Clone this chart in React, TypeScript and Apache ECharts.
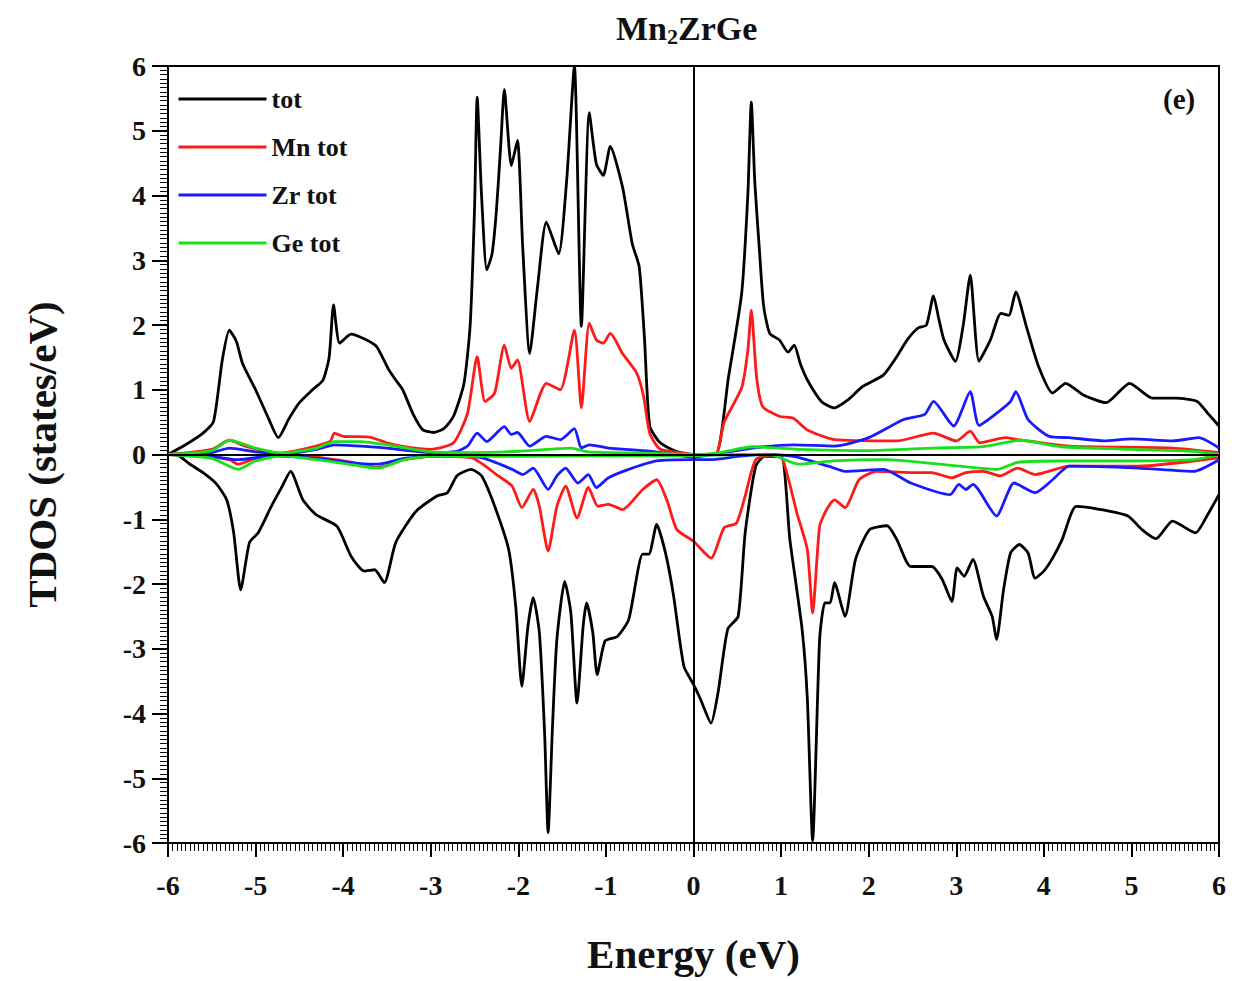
import React, { useEffect, useRef } from "react";
import * as echarts from "echarts";

type P = [number, number];

const xTicks = [-6, -5, -4, -3, -2, -1, 0, 1, 2, 3, 4, 5, 6];
const legendNames = ["tot", "Mn tot", "Zr tot", "Ge tot"];

const totUp: P[] = [[-6,0],[-5.8,0.15],[-5.6,0.33],[-5.48,0.51],[-5.38,1.46],[-5.30,1.92],[-5.22,1.75],[-5.15,1.41],[-5.0,1.0],[-4.85,0.55],[-4.74,0.26],[-4.62,0.55],[-4.50,0.80],[-4.35,1.0],[-4.23,1.15],[-4.16,1.5],[-4.11,2.31],[-4.04,1.72],[-3.91,1.86],[-3.75,1.78],[-3.62,1.67],[-3.48,1.31],[-3.40,1.15],[-3.32,1.0],[-3.2,0.62],[-3.09,0.38],[-2.97,0.34],[-2.85,0.40],[-2.74,0.59],[-2.62,1.1],[-2.55,2.0],[-2.50,3.8],[-2.47,5.52],[-2.42,4.0],[-2.36,2.85],[-2.30,3.1],[-2.25,3.77],[-2.2,4.8],[-2.16,5.64],[-2.08,4.46],[-2.01,4.85],[-1.95,3.2],[-1.87,1.56],[-1.78,2.6],[-1.68,3.59],[-1.54,3.10],[-1.45,4.2],[-1.36,6.0],[-1.28,1.98],[-1.19,5.28],[-1.11,4.49],[-1.03,4.31],[-0.95,4.76],[-0.81,4.13],[-0.70,3.26],[-0.62,2.90],[-0.56,1.8],[-0.50,0.44],[-0.38,0.18],[-0.2,0.05],[0,0],[0.25,0],[0.4,1.2],[0.55,2.49],[0.62,4.0],[0.66,5.44],[0.70,4.2],[0.75,3.21],[0.8,2.3],[0.87,1.87],[0.98,1.77],[1.08,1.58],[1.15,1.69],[1.22,1.4],[1.30,1.15],[1.46,0.82],[1.61,0.72],[1.77,0.85],[1.93,1.05],[2.17,1.23],[2.32,1.51],[2.44,1.77],[2.56,1.95],[2.66,2.0],[2.74,2.45],[2.80,2.1],[2.86,1.77],[2.99,1.44],[3.08,2.0],[3.16,2.77],[3.26,1.44],[3.39,1.77],[3.51,2.18],[3.60,2.15],[3.68,2.51],[3.80,1.98],[3.94,1.36],[4.10,0.95],[4.25,1.10],[4.45,0.92],[4.71,0.80],[4.98,1.10],[5.24,0.87],[5.51,0.87],[5.75,0.82],[5.87,0.64],[6.0,0.44]];

const totDown: P[] = [[-6,0],[-5.91,0],[-5.75,-0.15],[-5.60,-0.28],[-5.45,-0.45],[-5.33,-0.70],[-5.25,-1.21],[-5.17,-2.09],[-5.07,-1.36],[-4.97,-1.21],[-4.82,-0.80],[-4.70,-0.5],[-4.60,-0.26],[-4.46,-0.70],[-4.31,-0.93],[-4.07,-1.11],[-3.91,-1.57],[-3.76,-1.80],[-3.64,-1.78],[-3.53,-1.98],[-3.40,-1.36],[-3.17,-0.88],[-2.93,-0.64],[-2.81,-0.59],[-2.70,-0.33],[-2.54,-0.23],[-2.42,-0.33],[-2.27,-0.80],[-2.11,-1.47],[-2.03,-2.34],[-1.96,-3.58],[-1.89,-2.65],[-1.83,-2.21],[-1.76,-2.75],[-1.70,-4.3],[-1.66,-5.84],[-1.61,-4.2],[-1.56,-2.86],[-1.47,-1.96],[-1.40,-2.45],[-1.33,-3.84],[-1.26,-2.65],[-1.22,-2.29],[-1.15,-2.75],[-1.10,-3.40],[-1.01,-2.88],[-0.87,-2.81],[-0.74,-2.55],[-0.58,-1.54],[-0.51,-1.54],[-0.42,-1.08],[-0.32,-1.52],[-0.23,-2.16],[-0.11,-3.27],[0,-3.55],[0.08,-3.78],[0.20,-4.15],[0.28,-3.68],[0.39,-2.70],[0.51,-2.50],[0.59,-1.21],[0.71,-0.18],[0.81,-0.03],[1.0,-0.03],[1.10,-1.31],[1.24,-2.70],[1.30,-3.78],[1.36,-5.97],[1.44,-2.86],[1.50,-2.29],[1.56,-2.29],[1.61,-1.98],[1.73,-2.50],[1.85,-1.62],[2.01,-1.16],[2.21,-1.10],[2.32,-1.31],[2.48,-1.73],[2.72,-1.73],[2.84,-1.93],[2.95,-2.27],[3.01,-1.75],[3.09,-1.88],[3.19,-1.62],[3.31,-2.19],[3.41,-2.50],[3.46,-2.86],[3.54,-2.09],[3.62,-1.52],[3.72,-1.39],[3.82,-1.52],[3.90,-1.91],[4.0,-1.80],[4.10,-1.60],[4.21,-1.31],[4.37,-0.80],[4.65,-0.85],[4.96,-0.95],[5.12,-1.16],[5.28,-1.30],[5.47,-1.03],[5.73,-1.21],[5.87,-0.93],[6.0,-0.62]];

const mnUp: P[] = [[-6,0],[-5.5,0.08],[-5.3,0.22],[-5.1,0.12],[-4.74,0.02],[-4.4,0.1],[-4.15,0.2],[-4.1,0.33],[-4.0,0.28],[-3.7,0.27],[-3.5,0.18],[-3.3,0.12],[-3.0,0.08],[-2.74,0.18],[-2.58,0.64],[-2.47,1.51],[-2.38,0.82],[-2.27,0.95],[-2.16,1.69],[-2.08,1.33],[-2.01,1.46],[-1.87,0.51],[-1.68,1.10],[-1.52,1.0],[-1.36,1.92],[-1.28,0.72],[-1.19,2.03],[-1.11,1.77],[-1.03,1.72],[-0.95,1.87],[-0.81,1.56],[-0.65,1.26],[-0.57,0.9],[-0.50,0.33],[-0.38,0.08],[-0.1,0.02],[0,0],[0.25,0],[0.35,0.5],[0.55,1.03],[0.62,1.6],[0.66,2.23],[0.72,1.2],[0.79,0.74],[0.98,0.59],[1.14,0.56],[1.30,0.38],[1.61,0.23],[2.32,0.21],[2.74,0.33],[3.0,0.21],[3.16,0.36],[3.27,0.18],[3.56,0.26],[3.70,0.23],[4.29,0.13],[5.47,0.10],[6.0,0.03]];

const mnDown: P[] = [[-6,0],[-5.6,-0.03],[-5.3,-0.08],[-5.2,-0.15],[-5.0,-0.06],[-4.6,0],[-4.2,-0.06],[-3.9,-0.12],[-3.6,-0.2],[-3.3,-0.08],[-3.0,-0.03],[-2.54,-0.05],[-2.23,-0.33],[-2.07,-0.49],[-1.96,-0.82],[-1.83,-0.54],[-1.76,-0.80],[-1.66,-1.49],[-1.56,-0.80],[-1.46,-0.49],[-1.33,-0.98],[-1.20,-0.51],[-1.09,-0.80],[-0.97,-0.77],[-0.81,-0.85],[-0.58,-0.54],[-0.42,-0.39],[-0.30,-0.72],[-0.19,-1.16],[0,-1.34],[0.20,-1.60],[0.35,-1.13],[0.49,-1.06],[0.59,-0.64],[0.71,-0.08],[0.91,0],[1.02,-0.08],[1.18,-0.90],[1.30,-1.47],[1.36,-2.45],[1.44,-1.11],[1.52,-0.85],[1.61,-0.70],[1.73,-0.82],[1.89,-0.39],[2.09,-0.26],[2.48,-0.28],[2.72,-0.28],[2.95,-0.36],[3.11,-0.28],[3.31,-0.26],[3.50,-0.33],[3.70,-0.21],[3.90,-0.31],[4.29,-0.18],[5.08,-0.18],[5.99,-0.05]];

const zrUp: P[] = [[-6,0],[-5.5,0.03],[-5.3,0.10],[-5.0,0.04],[-4.7,0.01],[-4.3,0.08],[-4.1,0.15],[-3.8,0.13],[-3.5,0.1],[-3.0,0.03],[-2.7,0.05],[-2.58,0.13],[-2.47,0.33],[-2.36,0.2],[-2.16,0.43],[-2.08,0.31],[-2.01,0.34],[-1.87,0.13],[-1.68,0.28],[-1.52,0.23],[-1.36,0.40],[-1.28,0.10],[-1.19,0.15],[-0.97,0.10],[-0.5,0.05],[0,-0.04],[0.3,0.02],[0.67,0.1],[1.14,0.15],[1.61,0.13],[2.0,0.26],[2.40,0.54],[2.64,0.62],[2.74,0.82],[2.97,0.44],[3.16,0.97],[3.26,0.45],[3.51,0.69],[3.62,0.82],[3.68,0.97],[3.82,0.54],[4.06,0.28],[4.29,0.26],[4.69,0.21],[5.0,0.24],[5.47,0.21],[5.77,0.26],[6.0,0.10]];

const zrDown: P[] = [[-6,0],[-5.5,-0.03],[-5.2,-0.08],[-4.8,-0.02],[-4.3,-0.06],[-3.8,-0.14],[-3.6,-0.15],[-3.3,-0.06],[-2.8,-0.02],[-2.42,-0.05],[-2.07,-0.23],[-1.95,-0.31],[-1.83,-0.21],[-1.66,-0.54],[-1.56,-0.33],[-1.46,-0.21],[-1.32,-0.44],[-1.20,-0.31],[-1.11,-0.51],[-0.97,-0.36],[-0.74,-0.23],[-0.42,-0.10],[0,-0.08],[0.2,-0.08],[0.5,-0.03],[0.75,0],[1.14,-0.03],[1.54,-0.18],[1.73,-0.26],[2.17,-0.23],[2.48,-0.44],[2.93,-0.62],[3.03,-0.46],[3.11,-0.54],[3.19,-0.46],[3.46,-0.95],[3.66,-0.44],[3.90,-0.59],[4.10,-0.39],[4.29,-0.18],[5.08,-0.21],[5.71,-0.26],[6.0,-0.08]];

const geUp: P[] = [[-6,0],[-5.5,0.06],[-5.3,0.22],[-5.0,0.1],[-4.7,0.02],[-4.3,0.1],[-4.1,0.2],[-3.8,0.2],[-3.5,0.15],[-3.0,0.04],[-2.5,0.03],[-2.0,0.05],[-1.4,0.1],[-1.2,0.04],[-0.5,0.02],[0,0],[0.3,0.03],[0.67,0.12],[1.2,0.08],[2.0,0.06],[2.74,0.1],[3.3,0.12],[3.73,0.22],[4.2,0.12],[5.0,0.08],[5.7,0.05],[6,0]];

const geDown: P[] = [[-6,0],[-5.5,-0.06],[-5.2,-0.23],[-5.0,-0.1],[-4.7,-0.02],[-4.2,-0.1],[-3.8,-0.18],[-3.6,-0.21],[-3.3,-0.08],[-3.0,-0.03],[-2.0,-0.03],[-1.0,-0.02],[0,-0.02],[0.5,0],[0.9,-0.01],[1.2,-0.15],[1.6,-0.1],[2.2,-0.08],[2.8,-0.15],[3.47,-0.23],[3.7,-0.12],[4.2,-0.1],[5.0,-0.1],[5.7,-0.08],[6,0]];

const FONT = '"Liberation Serif", "Times New Roman", serif';
const colors = ["#000000", "#ff1a1a", "#1a1aff", "#19e019"];

export default function App() {
  const ref = useRef<HTMLDivElement>(null);
  useEffect(() => {
    if (!ref.current) return;
    const chart = echarts.init(ref.current, null, { renderer: "svg" });
    const mk = (name: string, data: P[], color: string, extra: any = {}) => ({
      name,
      type: "line",
      data,
      showSymbol: false,
      symbol: "none",
      smooth: 0.2,
      lineStyle: { color, width: 2.8 },
      itemStyle: { color },
      z: 3,
      ...extra,
    });
    const zeroLines = {
      silent: true,
      symbol: "none",
      label: { show: false },
      lineStyle: { color: "#000", width: 2, type: "solid" },
      data: [{ yAxis: 0 }, { xAxis: 0 }],
    };
    chart.setOption({
      animation: false,
      backgroundColor: "#ffffff",
      title: {
        text: "Mn{sub|2}ZrGe",
        left: 611,
        top: 4,
        textStyle: {
          fontFamily: FONT,
          fontWeight: "bold",
          fontSize: 34,
          color: "#111",
          rich: {
            sub: { fontFamily: FONT, fontWeight: "bold", fontSize: 22, verticalAlign: "bottom", padding: [16, 0, 0, 0], color: "#111" },
          },
        },
      },
      legend: {
        orient: "vertical",
        left: 172,
        top: 81,
        itemWidth: 88,
        itemHeight: 24,
        itemGap: 22,
        data: legendNames,
        itemStyle: { opacity: 0, borderWidth: 0 },
        lineStyle: { width: 3 },
        textStyle: { fontFamily: FONT, fontWeight: "bold", fontSize: 26, color: "#111", padding: [0, 0, 0, 0] },
      },
      grid: {
        left: 168,
        top: 66,
        width: 1051,
        height: 777,
        show: true,
        borderColor: "#000",
        borderWidth: 2,
        backgroundColor: "transparent",
      },
      xAxis: {
        type: "value",
        min: xTicks[0],
        max: xTicks[xTicks.length - 1],
        interval: 1,
        name: "Energy (eV)",
        nameLocation: "middle",
        nameGap: 90,
        nameTextStyle: { fontFamily: FONT, fontWeight: "bold", fontSize: 41, color: "#111" },
        axisLine: { show: true, onZero: false, lineStyle: { color: "#000", width: 2 } },
        axisTick: { show: true, inside: false, length: 14, lineStyle: { color: "#000", width: 2 } },
        minorTick: { show: true, splitNumber: 20, length: 8, lineStyle: { color: "#000", width: 1 } },
        axisLabel: { margin: 28, fontFamily: FONT, fontWeight: "bold", fontSize: 28, color: "#111" },
        splitLine: { show: false },
        minorSplitLine: { show: false },
      },
      yAxis: {
        type: "value",
        min: -6,
        max: 6,
        interval: 1,
        name: "TDOS (states/eV)",
        nameLocation: "middle",
        nameGap: 106,
        nameTextStyle: { fontFamily: FONT, fontWeight: "bold", fontSize: 41, color: "#111" },
        axisLine: { show: true, onZero: false, lineStyle: { color: "#000", width: 2 } },
        axisTick: { show: true, inside: false, length: 16, lineStyle: { color: "#000", width: 2 } },
        minorTick: { show: true, splitNumber: 15, length: 8, lineStyle: { color: "#000", width: 1 } },
        axisLabel: { margin: 22, fontFamily: FONT, fontWeight: "bold", fontSize: 28, color: "#111" },
        splitLine: { show: false },
        minorSplitLine: { show: false },
      },
      graphic: [
        {
          type: "text",
          left: 1163,
          top: 84,
          style: { text: "(e)", fontFamily: FONT, fontWeight: "bold", fontSize: 29, fill: "#111" },
        },
      ],
      series: [
        mk("tot", totUp, colors[0], { markLine: zeroLines, z: 2 }),
        mk("tot", totDown, colors[0], { z: 2 }),
        mk("Mn tot", mnUp, colors[1]),
        mk("Mn tot", mnDown, colors[1]),
        mk("Zr tot", zrUp, colors[2]),
        mk("Zr tot", zrDown, colors[2]),
        mk("Ge tot", geUp, colors[3], { z: 4 }),
        mk("Ge tot", geDown, colors[3], { z: 4 }),
      ],
    });
    return () => chart.dispose();
  }, []);
  return (
    <div
      ref={ref}
      style={{ position: "fixed", left: 0, top: 0, width: 1239, height: 981, background: "#fff" }}
    />
  );
}
